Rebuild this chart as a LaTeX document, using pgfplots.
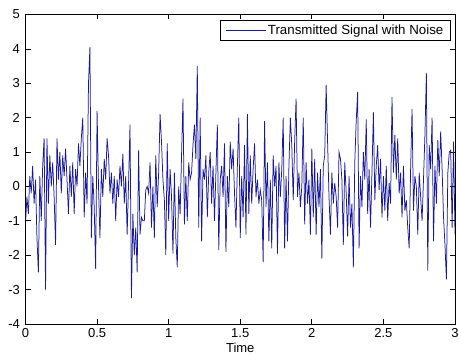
\documentclass[border=0pt]{standalone}
\usepackage{fontspec}
\setmainfont{Liberation Sans}
\usepackage{pgfplots}
\pgfplotsset{compat=1.18}
\definecolor{mblue}{rgb}{0.1,0.1,0.62}
\begin{document}
\fontsize{13}{15}\selectfont
\begin{tikzpicture}
\begin{axis}[
  at={(0,0)}, anchor=south west,
  scale only axis, width=429.5pt, height=309.5pt,
  xmin=0, xmax=3, ymin=-4, ymax=5,
  xtick={0,0.5,1,1.5,2,2.5,3}, ytick={-4,-3,-2,-1,0,1,2,3,4,5},
  xtick pos=both, ytick pos=both, tick align=inside,
  major tick length=5pt,
  axis line style={line width=0.8pt},
  tick style={line width=0.7pt, black},
  /pgf/number format/assume math mode=true,
  xticklabel style={anchor=center, yshift=-9pt},
  yticklabel style={anchor=east, xshift=-1pt},
  xlabel={Time},
  xlabel style={at={(axis description cs:0.5,0)}, anchor=center, yshift=-24pt},
  legend style={at={(axis description cs:0.99,0.982)}, anchor=north east,
    draw=black, line width=0.7pt, inner xsep=5pt, inner ysep=2pt, font=\fontsize{13.3}{15}\selectfont},
  legend cell align=left,
  legend image code/.code={\draw[#1, line width=0.8pt] (0pt,0pt) -- (40pt,0pt);},
]
\addplot[mblue, line width=0.75pt] table[row sep=\\] {
t y\\
0.00 -1.1\\ 0.01 -0.3\\ 0.02 -0.8\\ 0.03 0.3\\ 0.04 -0.2\\ 0.05 0.6\\ 0.06 -0.5\\ 0.07 0.2\\ 0.08 -1.5\\ 0.09 -2.5\\
0.10 0.3\\ 0.11 -1.0\\ 0.12 0.6\\ 0.13 1.4\\ 0.14 -3.0\\ 0.15 1.4\\ 0.16 -0.5\\ 0.17 0.9\\ 0.18 0.0\\ 0.19 0.7\\
0.20 -0.3\\ 0.21 -1.7\\ 0.22 1.4\\ 0.23 0.2\\ 0.24 1.0\\ 0.25 -0.2\\ 0.26 0.9\\ 0.27 0.3\\ 0.28 1.1\\ 0.29 0.2\\
0.30 -0.8\\ 0.31 0.6\\ 0.32 -0.3\\ 0.33 0.7\\ 0.34 -0.8\\ 0.35 0.5\\ 0.36 0.0\\ 0.37 1.25\\ 0.38 0.6\\ 0.39 1.4\\
0.40 2.0\\ 0.41 -0.9\\ 0.42 0.4\\ 0.43 -0.5\\ 0.44 3.0\\ 0.45 4.05\\ 0.46 -1.5\\ 0.47 0.3\\ 0.48 -0.6\\ 0.49 -2.4\\
0.50 2.2\\ 0.51 0.0\\ 0.52 -1.5\\ 0.53 0.5\\ 0.54 -0.3\\ 0.55 0.8\\ 0.56 0.2\\ 0.57 1.4\\ 0.58 0.9\\ 0.59 -0.2\\
0.60 0.4\\ 0.61 -0.5\\ 0.62 0.3\\ 0.63 -1.0\\ 0.64 0.2\\ 0.65 -0.3\\ 0.66 0.6\\ 0.67 0.0\\ 0.68 0.95\\ 0.69 -0.5\\
0.70 0.3\\ 0.71 -1.4\\ 0.72 0.1\\ 0.73 1.8\\ 0.74 -3.25\\ 0.75 -0.8\\ 0.76 -2.0\\ 0.77 -1.2\\ 0.78 -2.5\\ 0.79 1.05\\
0.80 -1.4\\ 0.81 -0.9\\ 0.82 -1.0\\ 0.83 -1.0\\ 0.84 -0.1\\ 0.85 0.0\\ 0.86 -0.2\\ 0.87 0.7\\ 0.88 -1.2\\ 0.89 0.0\\
0.90 -1.5\\ 0.91 0.9\\ 0.92 -0.6\\ 0.93 0.4\\ 0.94 2.1\\ 0.95 1.3\\ 0.96 0.2\\ 0.97 -0.4\\ 0.98 -2.0\\ 0.99 1.25\\
1.00 -1.0\\ 1.01 0.5\\ 1.02 -0.3\\ 1.03 -1.95\\ 1.04 0.4\\ 1.05 -1.5\\ 1.06 -2.35\\ 1.07 0.0\\ 1.08 -0.8\\ 1.09 0.9\\
1.10 2.55\\ 1.11 -1.1\\ 1.12 0.3\\ 1.13 -1.0\\ 1.14 0.7\\ 1.15 0.2\\ 1.16 0.4\\ 1.17 1.2\\ 1.18 1.8\\ 1.19 0.8\\
1.20 3.5\\ 1.21 -1.2\\ 1.22 2.0\\ 1.23 -1.6\\ 1.24 0.5\\ 1.25 0.2\\ 1.26 0.9\\ 1.27 -0.9\\ 1.28 0.4\\ 1.29 1.0\\
1.30 -0.5\\ 1.31 0.6\\ 1.32 -1.0\\ 1.33 0.4\\ 1.34 1.8\\ 1.35 -1.85\\ 1.36 0.2\\ 1.37 0.6\\ 1.38 -0.3\\ 1.39 1.25\\
1.40 -1.9\\ 1.41 0.3\\ 1.42 -0.6\\ 1.43 1.3\\ 1.44 0.5\\ 1.45 1.1\\ 1.46 -0.2\\ 1.47 -1.2\\ 1.48 0.6\\ 1.49 2.0\\
1.50 -1.5\\ 1.51 0.3\\ 1.52 -0.9\\ 1.53 1.2\\ 1.54 -1.4\\ 1.55 2.1\\ 1.56 -0.8\\ 1.57 0.9\\ 1.58 -0.5\\ 1.59 0.5\\
1.60 1.25\\ 1.61 -0.3\\ 1.62 0.2\\ 1.63 -0.5\\ 1.64 -0.1\\ 1.65 -0.4\\ 1.66 -2.2\\ 1.67 1.9\\ 1.68 -0.6\\ 1.69 0.7\\
1.70 -1.6\\ 1.71 0.2\\ 1.72 -1.8\\ 1.73 0.9\\ 1.74 0.0\\ 1.75 0.6\\ 1.76 -1.95\\ 1.77 0.7\\ 1.78 -0.3\\ 1.79 0.5\\
1.80 2.0\\ 1.81 -1.8\\ 1.82 0.3\\ 1.83 -1.6\\ 1.84 0.6\\ 1.85 2.0\\ 1.86 1.2\\ 1.87 -0.4\\ 1.88 1.3\\ 1.89 2.55\\
1.90 -0.3\\ 1.91 0.4\\ 1.92 -0.6\\ 1.93 0.0\\ 1.94 2.0\\ 1.95 -1.1\\ 1.96 0.7\\ 1.97 -0.5\\ 1.98 0.2\\ 1.99 -1.4\\
2.00 1.1\\ 2.01 -0.9\\ 2.02 0.8\\ 2.03 -1.4\\ 2.04 0.4\\ 2.05 -0.6\\ 2.06 0.5\\ 2.07 -2.1\\ 2.08 0.6\\ 2.09 0.9\\
2.10 2.95\\ 2.11 1.3\\ 2.12 -0.3\\ 2.13 -1.4\\ 2.14 0.4\\ 2.15 -0.5\\ 2.16 0.1\\ 2.17 -0.3\\ 2.18 -1.2\\ 2.19 1.0\\
2.20 0.8\\ 2.21 0.2\\ 2.22 -1.7\\ 2.23 0.7\\ 2.24 -0.2\\ 2.25 -1.45\\ 2.26 0.3\\ 2.27 -1.2\\ 2.28 -0.5\\ 2.29 -2.35\\
2.30 0.7\\ 2.31 1.9\\ 2.32 2.75\\ 2.33 -1.8\\ 2.34 0.3\\ 2.35 -0.6\\ 2.36 1.0\\ 2.37 0.2\\ 2.38 1.95\\ 2.39 -0.8\\
2.40 0.5\\ 2.41 -1.2\\ 2.42 0.4\\ 2.43 2.15\\ 2.44 -0.4\\ 2.45 0.6\\ 2.46 1.2\\ 2.47 -0.1\\ 2.48 0.8\\ 2.49 -0.9\\
2.50 0.3\\ 2.51 -0.7\\ 2.52 0.6\\ 2.53 -1.0\\ 2.54 0.1\\ 2.55 -0.5\\ 2.56 2.6\\ 2.57 0.4\\ 2.58 1.5\\ 2.59 0.2\\
2.60 1.4\\ 2.61 -0.2\\ 2.62 0.4\\ 2.63 -0.9\\ 2.64 0.6\\ 2.65 -0.7\\ 2.66 -0.4\\ 2.67 -1.2\\ 2.68 -1.8\\ 2.69 0.5\\
2.70 2.25\\ 2.71 -0.7\\ 2.72 0.3\\ 2.73 0.0\\ 2.74 -1.4\\ 2.75 0.4\\ 2.76 -0.3\\ 2.77 -1.0\\ 2.78 0.2\\ 2.79 1.5\\
2.80 3.3\\ 2.81 -2.45\\ 2.82 1.2\\ 2.83 0.5\\ 2.84 2.0\\ 2.85 -1.6\\ 2.86 0.6\\ 2.87 -0.5\\ 2.88 1.35\\ 2.89 0.3\\
2.90 1.6\\ 2.91 0.5\\ 2.92 -0.9\\ 2.93 -1.7\\ 2.94 -2.7\\ 2.95 0.4\\ 2.96 1.0\\ 2.97 1.05\\ 2.98 -1.2\\ 2.99 1.3\\
3.00 -1.4\\
};
\addlegendentry{Transmitted Signal with Noise}
\end{axis}
\pgfresetboundingbox
\path[use as bounding box] (-25.5pt,-32pt) rectangle (433.5pt,324pt);
\end{tikzpicture}
\end{document}
